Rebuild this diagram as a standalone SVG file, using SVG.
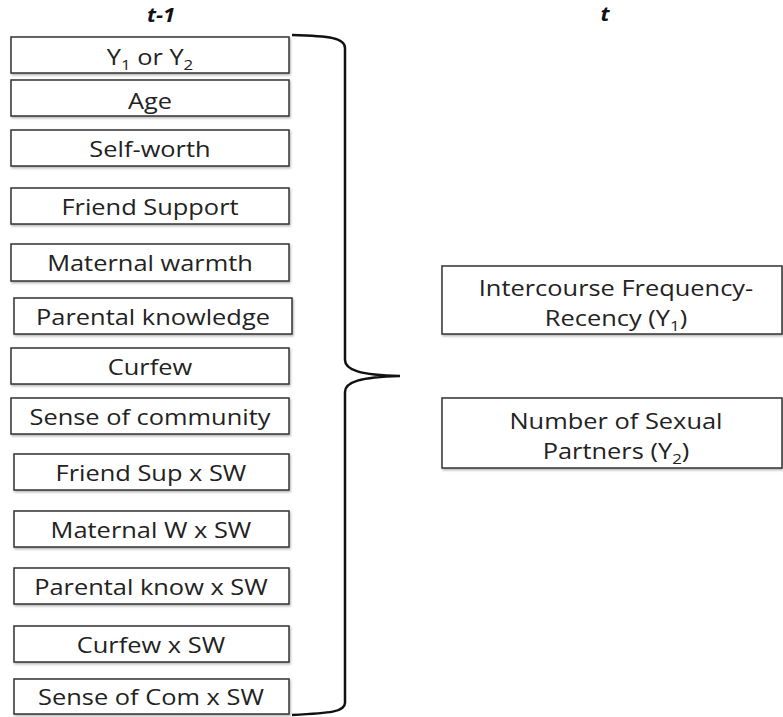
<svg xmlns="http://www.w3.org/2000/svg" width="783" height="717" viewBox="0 0 783 717">
<defs>
<filter id="sh" x="-5%" y="-20%" width="110%" height="140%"><feDropShadow dx="1" dy="1.5" stdDeviation="1.2" flood-color="#000" flood-opacity="0.3"/></filter>
</defs>
<style>
.b{fill:#fff;stroke:#333;stroke-width:1.5;filter:url(#sh)}
.t{font-family:"Open Sans","Liberation Sans",sans-serif;font-size:21px;fill:#222;text-anchor:middle;transform-box:fill-box;transform-origin:center;transform:scaleX(1.21)}
.h{font-family:"Open Sans","Liberation Sans",sans-serif;font-size:20px;font-weight:bold;font-style:italic;fill:#111;text-anchor:middle;transform-box:fill-box;transform-origin:center;transform:scaleX(1.1)}
.s{font-size:14px}
.c{fill:none;stroke:#111;stroke-width:2.5}
</style>
<rect width="783" height="717" fill="#fff"/>
<text class="h" x="161" y="22">t-1</text>
<text class="h" x="605" y="21">t</text>
<g id="n1"><rect class="b" x="11" y="37" width="278" height="36"/><text class="t" x="150" y="65">Y<tspan class="s" dy="5">1</tspan><tspan dy="-5"> or Y</tspan><tspan class="s" dy="5">2</tspan></text></g>
<g id="n2"><rect class="b" x="11" y="80" width="278" height="36"/><text class="t" x="150" y="109">Age</text></g>
<g id="n3"><rect class="b" x="11" y="130" width="278" height="36"/><text class="t" x="150" y="157">Self-worth</text></g>
<g id="n4"><rect class="b" x="11" y="188" width="278" height="36"/><text class="t" x="150" y="215">Friend Support</text></g>
<g id="n5"><rect class="b" x="11" y="244" width="278" height="37"/><text class="t" x="150" y="271">Maternal warmth</text></g>
<g id="n6"><rect class="b" x="14" y="298" width="278" height="36"/><text class="t" x="153" y="325">Parental knowledge</text></g>
<g id="n7"><rect class="b" x="11" y="348" width="278" height="36"/><text class="t" x="150" y="375">Curfew</text></g>
<g id="n8"><rect class="b" x="11" y="398" width="278" height="36"/><text class="t" x="150" y="425">Sense of community</text></g>
<g id="n9"><rect class="b" x="14" y="454" width="275" height="36"/><text class="t" x="151" y="481">Friend Sup x SW</text></g>
<g id="n10"><rect class="b" x="14" y="511" width="275" height="36"/><text class="t" x="151" y="538">Maternal W x SW</text></g>
<g id="n11"><rect class="b" x="14" y="568" width="275" height="36"/><text class="t" x="151" y="595">Parental know x SW</text></g>
<g id="n12"><rect class="b" x="14" y="626" width="275" height="36"/><text class="t" x="151" y="653">Curfew x SW</text></g>
<g id="n13"><rect class="b" x="14" y="679" width="275" height="35"/><text class="t" x="151" y="705">Sense of Com x SW</text></g>
<g id="o1"><rect class="b" x="442" y="266" width="340" height="68"/><text class="t" x="616" y="296">Intercourse Frequency-</text><text class="t" x="616" y="326">Recency (Y<tspan class="s" dy="5">1</tspan><tspan dy="-5">)</tspan></text></g>
<g id="o2"><rect class="b" x="442" y="398" width="340" height="70"/><text class="t" x="616" y="429">Number of Sexual</text><text class="t" x="616" y="459">Partners (Y<tspan class="s" dy="5">2</tspan><tspan dy="-5">)</tspan></text></g>
<g id="connectors">
<path class="c" d="M292,35 C330,36 345,38 345,48 L345,360 C345,370 360,375 400,376 C360,377 345,382 345,392 L345,703 C345,712 330,713 292,715"/>
</g>
</svg>
